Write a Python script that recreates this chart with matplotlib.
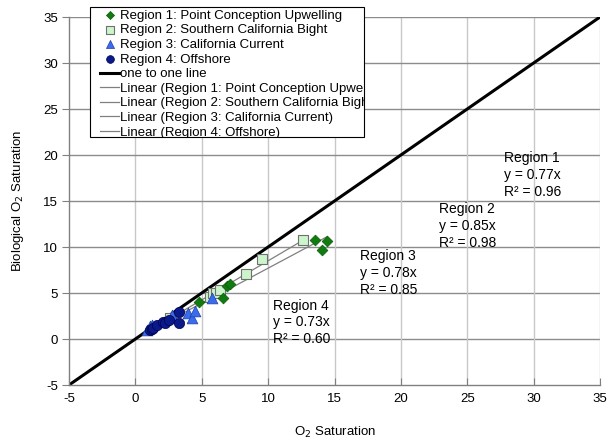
import numpy as np
import matplotlib.pyplot as plt
from matplotlib.patches import Rectangle

plt.rcParams['font.family'] = ['Liberation Sans', 'DejaVu Sans']
plt.rcParams['axes.unicode_minus'] = False

# Region 1: Point Conception Upwelling
r1_x = [4.76, 6.6, 6.9, 7.1, 13.5, 14.07, 14.45]
r1_y = [4.06, 4.5, 5.76, 6.0, 10.8, 9.7, 10.7]
# Region 2: Southern California Bight
r2_x = [2.6, 5.6, 5.85, 6.1, 6.4, 8.33, 9.54, 12.64]
r2_y = [2.3, 4.6, 4.97, 5.0, 5.33, 7.07, 8.73, 10.76]
# Region 3: California Current
r3_x = [0.86, 1.1, 1.24, 2.75, 4.0, 4.26, 4.5, 5.77]
r3_y = [0.98, 1.4, 1.52, 2.6, 2.8, 2.25, 3.0, 4.42]
# Region 4: Offshore
r4_x = [1.1, 1.24, 1.36, 1.6, 2.1, 2.25, 2.5, 3.25, 3.25]
r4_y = [0.98, 1.1, 1.16, 1.52, 1.88, 1.7, 2.07, 2.97, 1.7]

slopes = [0.77, 0.85, 0.78, 0.73]
r2vals = [0.96, 0.98, 0.85, 0.60]
labels = ['Region 1: Point Conception Upwelling', 'Region 2: Southern California Bight',
          'Region 3: California Current', 'Region 4: Offshore']
short = ['Region 1', 'Region 2', 'Region 3', 'Region 4']
# where the equation labels sit (data coords, top-left)
lab_pos = [(27.75, 20.4), (22.85, 14.85), (16.9, 9.75), (10.4, 4.4)]

fig = plt.figure(figsize=(6.08, 4.44), dpi=100)
ax = fig.add_axes([69/608, 1-385/444, 531/608, 368/444])

ax.set_xlim(-5, 35)
ax.set_ylim(-5, 35)
ticks = np.arange(-5, 36, 5)
ax.set_xticks(ticks)
ax.set_yticks(ticks)
for t in ticks:
    if t > -5:
        ax.axhline(t, color='#8c8c8c', lw=1.0, zorder=0)
        ax.axvline(t, color='#c8c8c8', lw=1.0, zorder=0)

for s in ['top', 'right']:
    ax.spines[s].set_visible(False)
for s in ['left', 'bottom']:
    ax.spines[s].set_color('#808080')
    ax.spines[s].set_linewidth(1.0)
ax.tick_params(axis='x', direction='in', length=5, color='#808080', labelsize=9.5, pad=6)
ax.tick_params(axis='y', direction='out', length=5, color='#808080', labelsize=9.5, pad=3)

h1 = ax.scatter(r1_x, r1_y, marker='D', s=30, c='#107c10', edgecolors='#0a5a0a', linewidths=0.5, zorder=4)
h2 = ax.scatter(r2_x, r2_y, marker='s', s=60, c='#ccf5cc', edgecolors='#707070', linewidths=0.8, zorder=3)
h3 = ax.scatter(r3_x, r3_y, marker='^', s=60, c='#3a6cf0', edgecolors='#2040a0', linewidths=0.5, zorder=4)
h4 = ax.scatter(r4_x, r4_y, marker='o', s=55, c='#0a1a8a', edgecolors='#000050', linewidths=0.5, zorder=5)

one, = ax.plot([-5, 35], [-5, 35], color='black', lw=2.2, zorder=2)

fits = []
for xs, m in zip([r1_x, r2_x, r3_x, r4_x], slopes):
    xx = np.array([min(xs), max(xs)])
    ln, = ax.plot(xx, m * xx, color='#808080', lw=0.9, zorder=2)
    fits.append(ln)

for name, m, r, (px, py) in zip(short, slopes, r2vals, lab_pos):
    ax.text(px, py, '%s\ny = %.2fx\nR² = %.2f' % (name, m, r), fontsize=10,
            va='top', ha='left', linespacing=1.27)

# legend box (Excel cuts the long entries off at the box edge)
box = Rectangle((90/608, 1-137/444), 274/608, 130/444, transform=fig.transFigure,
                facecolor='white', edgecolor='black', lw=0.8, zorder=9, clip_on=False)
ax.add_patch(box)

handles = [h1, h2, h3, h4, one] + fits
leg_labels = labels + ['one to one line'] + ['Linear (%s)' % l for l in labels]
leg = ax.legend(handles, leg_labels, loc='upper left', bbox_to_anchor=(30/531, 1.024),
                borderaxespad=0, fontsize=9.5, handlelength=1.4, handletextpad=0.08,
                labelspacing=0.18, borderpad=0.1, frameon=False,
                scatterpoints=1, markerscale=0.75)
leg.set_zorder(10)
for t in leg.get_texts():
    t.set_clip_on(True)
    t.set_clip_path(box)

ax.set_xlabel('O$_2$ Saturation', fontsize=9.5, labelpad=14)
ax.set_ylabel('Biological O$_2$ Saturation', fontsize=9.5, labelpad=12)

fig.savefig('out.png', dpi=100)
